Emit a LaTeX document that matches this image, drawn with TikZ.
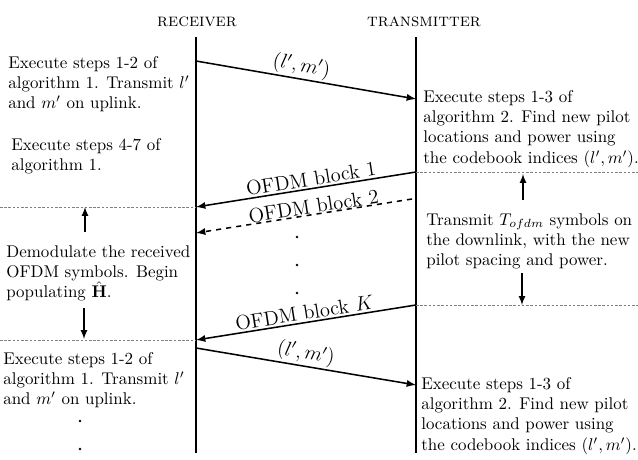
\documentclass[tikz,border=0pt]{standalone}
\usepackage{amsmath,amssymb}
\usepackage{tikz}
\usetikzlibrary{arrows, positioning, calc}

\begin{document}
\begin{tikzpicture}[
    x=0.59pt, y=-0.59pt,
    party/.style={font=\fontsize{10.7pt}{13pt}\selectfont\scshape, inner sep=0pt},
    life/.style={line width=1.3pt},
    note/.style={align=left, anchor=north west, inner sep=0pt},
    msg/.style={->, >=latex, line width=0.9pt},
    dashmsg/.style={->, >=latex, line width=0.9pt, dashed},
    lbl/.style={sloped, above, inner sep=1pt, font=\large},
    sep/.style={gray, dash pattern=on 1.5pt off 1pt, line width=0.3pt},
    arrow/.style={->, >=latex, line width=0.8pt},
    dot/.style={radius=0.8pt}]

    \useasboundingbox (0,0) rectangle (638,460);

    % Headers and lifelines
    \node[party] (rx) at (197,22) {receiver};
    \node[party] (tx) at (424,22) {transmitter};
    \coordinate (rxtop) at (196,37);
    \coordinate (rxbot) at (196,453);
    \coordinate (txtop) at (416,37);
    \coordinate (txbot) at (416,453);
    \draw[life] (rxtop) -- (rxbot);
    \draw[life] (txtop) -- (txbot);

    % Points on the lifelines
    \coordinate (r1) at (196,61);   \coordinate (t1) at (416,99);
    \coordinate (t2) at (416,172);  \coordinate (r2) at (196,207);
    \coordinate (t3) at (412,199);  \coordinate (r3) at (196,233);
    \coordinate (t4) at (416,305);  \coordinate (r4) at (196,340);
    \coordinate (r5) at (196,348);  \coordinate (t5) at (416,385);

    % Edge points of the separators
    \coordinate (lft2) at (0,207);  \coordinate (rgt2) at (638,172);
    \coordinate (lft4) at (0,340);  \coordinate (rgt4) at (638,305);

    % Receiver side notes
    \node[note] (rxa) at (8,56) {Execute steps 1-2 of\\algorithm 1. Transmit $l'$\\and $m'$ on uplink.};
    \node[note] (rxb) at (11,138) {Execute steps 4-7 of\\algorithm 1.};
    \node[note] (rxc) at (6,245) {Demodulate the received\\OFDM symbols. Begin\\populating $\hat{\mathbf{H}}$.};
    \node[note] (rxd) at (3,352) {Execute steps 1-2 of\\algorithm 1. Transmit $l'$\\and $m'$ on uplink.};

    % Transmitter side notes
    \node[note] (txa) at (423,90) {Execute steps 1-3 of\\algorithm 2. Find new pilot\\locations and power using\\the codebook indices $(l',m')$.};
    \node[note] (txb) at (426,213) {Transmit $T_{ofdm}$ symbols on\\the downlink, with the new\\pilot spacing and power.};
    \node[note] (txc) at (421,377) {Execute steps 1-3 of\\algorithm 2. Find new pilot\\locations and power using\\the codebook indices $(l',m')$.};

    % Messages
    \draw[msg] (r1) -- node[lbl, pos=0.47] {$(l',m')$} (t1);
    \draw[msg] (t2) -- node[lbl, pos=0.47] {OFDM block 1} (r2);
    \draw[dashmsg] (t3) -- node[lbl, inner sep=0pt, pos=0.45] {OFDM block 2} (r3);
    \draw[msg] (t4) -- node[lbl] {OFDM block $K$} (r4);
    \draw[msg] (r5) -- node[lbl, pos=0.49] {$(l',m')$} (t5);

    % Separators
    \draw[sep] (t2) -- (rgt2);
    \draw[sep] (lft2) -- (r2);
    \draw[sep] (t4) -- (rgt4);
    \draw[sep] (lft4) -- (r4);

    % Block span arrows
    \draw[arrow] (85,232) -- (85,207);
    \draw[arrow] (84,308) -- (84,339);
    \draw[arrow] (523,200) -- (523,174);
    \draw[arrow] (522,273) -- (522,305);

    % Dots
    \foreach \y in {237,265,293} \fill (297,\y) circle[dot];
    \foreach \y in {421,449} \fill (80,\y) circle[dot];
\end{tikzpicture}
\end{document}
